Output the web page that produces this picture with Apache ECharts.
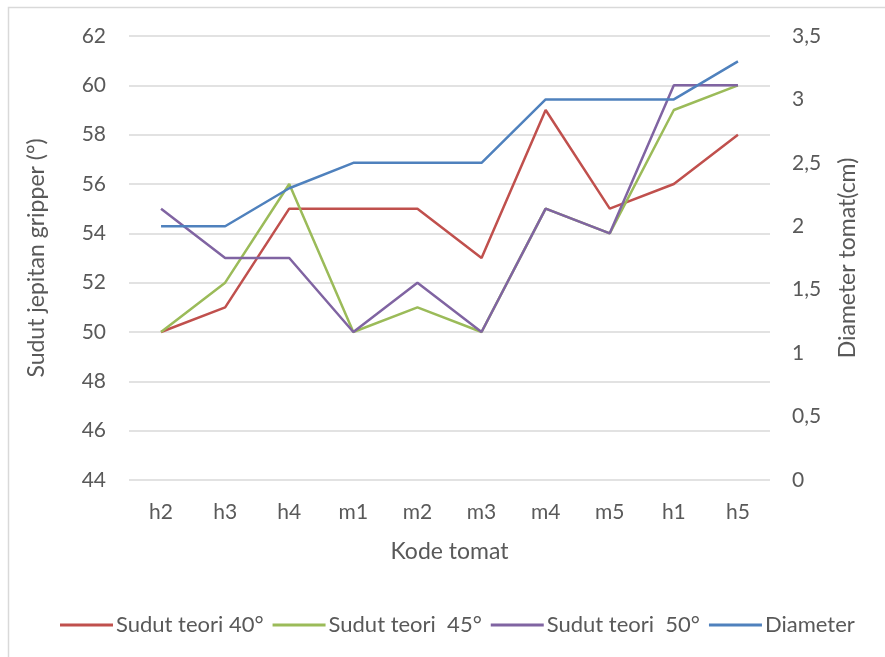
<!DOCTYPE html>
<html>
<head>
<meta charset="utf-8">
<script src="https://cdn.jsdelivr.net/npm/echarts@6/dist/echarts.min.js"></script>
<style>
  html, body { margin: 0; padding: 0; background: #fff; }
  #chart { width: 885px; height: 657px; }
</style>
</head>
<body>
<div id="chart"></div>
<script>
// data
var categories = ['h2', 'h3', 'h4', 'm1', 'm2', 'm3', 'm4', 'm5', 'h1', 'h5'];
var sudut40 = [50, 51, 55, 55, 55, 53, 59, 55, 56, 58];
var sudut45 = [50, 52, 56, 50, 51, 50, 55, 54, 59, 60];
var sudut50 = [55, 53, 53, 50, 52, 50, 55, 54, 60, 60];
var diameter = [2, 2, 2.3, 2.5, 2.5, 2.5, 3, 3, 3, 3.3];

var seriesNames = ['Sudut teori 40°', 'Sudut teori  45°', 'Sudut teori  50°', 'Diameter'];
var colors = ['#C0504D', '#9BBB59', '#8064A2', '#4F81BD'];

var fontFam = 'Lato, "Open Sans", sans-serif';
var txtColor = '#595959';

var chartDom = document.getElementById('chart');
var myChart = echarts.init(chartDom);
var option;

function lineSeries(name, data, color, axisIdx) {
  return {
    name: name,
    type: 'line',
    yAxisIndex: axisIdx,
    data: data,
    symbol: 'none',
    lineStyle: { color: color, width: 2.5 },
    itemStyle: { color: color },
    animation: false
  };
}

option = {
  backgroundColor: '#fff',
  textStyle: { fontFamily: fontFam },
  graphic: [
    {
      type: 'rect',
      shape: { x: 8.5, y: 7.5, width: 900, height: 700 },
      style: { fill: 'none', stroke: '#d9d9d9', lineWidth: 1.5 },
      silent: true
    }
  ],
  grid: {
    left: 129,
    right: 115,
    top: 36,
    bottom: 177
  },
  legend: {
    left: 55,
    top: 609,
    itemWidth: 53,
    itemHeight: 3,
    itemGap: 9,
    icon: 'rect',
    data: seriesNames,
    textStyle: { fontFamily: fontFam, fontSize: 22, color: txtColor, padding: [0, 0, 0, -2] }
  },
  xAxis: {
    type: 'category',
    data: categories,
    boundaryGap: true,
    axisLine: { show: false },
    axisTick: { show: false },
    axisLabel: { fontSize: 21, color: txtColor, margin: 22, fontFamily: fontFam },
    name: 'Kode tomat',
    nameLocation: 'middle',
    nameGap: 60,
    nameTextStyle: { fontSize: 23, color: txtColor, fontFamily: fontFam }
  },
  yAxis: [
    {
      type: 'value',
      min: 44,
      max: 62,
      interval: 2,
      axisLine: { show: false },
      axisTick: { show: false },
      splitLine: { lineStyle: { color: '#d9d9d9', width: 1.5 } },
      axisLabel: { fontSize: 21, color: txtColor, margin: 23, fontFamily: fontFam },
      name: 'Sudut jepitan gripper (°)',
      nameLocation: 'middle',
      nameGap: 81,
      nameTextStyle: { fontSize: 23, color: txtColor, fontFamily: fontFam }
    },
    {
      type: 'value',
      min: 0,
      max: 3.5,
      interval: 0.5,
      position: 'right',
      axisLine: { show: false },
      axisTick: { show: false },
      splitLine: { show: false },
      axisLabel: {
        fontSize: 21,
        color: txtColor,
        margin: 22,
        fontFamily: fontFam,
        formatter: function (v) { return String(v).replace('.', ','); }
      },
      name: 'Diameter tomat(cm)',
      nameLocation: 'middle',
      nameGap: 66,
      nameTextStyle: { fontSize: 23, color: txtColor, fontFamily: fontFam }
    }
  ],
  series: [
    lineSeries(seriesNames[0], sudut40, colors[0], 0),
    lineSeries(seriesNames[1], sudut45, colors[1], 0),
    lineSeries(seriesNames[2], sudut50, colors[2], 0),
    lineSeries(seriesNames[3], diameter, colors[3], 1)
  ]
};

option && myChart.setOption(option);
</script>
</body>
</html>
